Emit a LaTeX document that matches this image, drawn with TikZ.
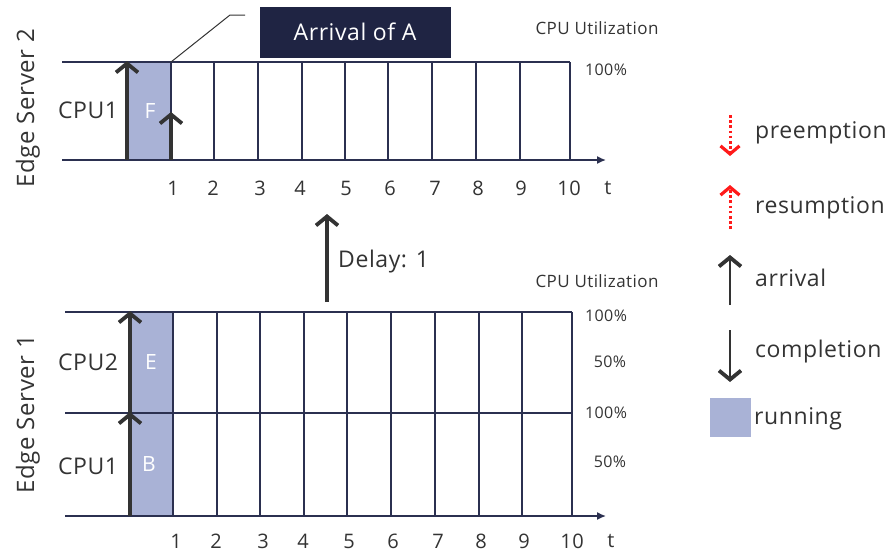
\documentclass[tikz,border=0pt]{standalone}
\usepackage{fontspec}
\setmainfont{Open Sans}[LetterSpace=2.5]
\usepackage{tikz}
\usetikzlibrary{arrows.meta,positioning}
\definecolor{tlgrid}{HTML}{2B3050}
\definecolor{tlrun}{HTML}{A9B2D6}
\definecolor{tlink}{HTML}{333333}
\definecolor{tlbox}{HTML}{1F2443}
\definecolor{tlred}{HTML}{FF1A1A}
\tikzset{
  grid/.style={draw=tlgrid,line width=1.3pt},
  axisline/.style={draw=tlgrid,line width=1.5pt,-{Latex[length=9pt,width=8pt]}},
  run/.style={fill=tlrun,draw=none},
  arrive/.style={draw=tlink,line width=3.5pt,-{Straight Barb[length=9pt,width=22pt,line width=3.8pt]}},
  finish/.style={draw=tlink,line width=3.5pt,-{Straight Barb[length=9pt,width=22pt,line width=3.8pt]}},
  preempt/.style={draw=tlred,line width=3pt,dash pattern=on 2.6pt off 2.6pt,
              -{Straight Barb[length=8pt,width=19pt,line width=3.2pt]}},
  ticklab/.style={font=\fontsize{20}{22}\selectfont,text=tlink,inner sep=0pt},
  cpulab/.style={font=\fontsize{23}{25}\selectfont,text=tlink,inner sep=0pt},
  srvlab/.style={font=\fontsize{24}{26}\selectfont,text=tlink,inner sep=0pt,rotate=90},
  joblab/.style={font=\fontsize{21}{23}\selectfont,text=white,inner sep=0pt},
  utillab/.style={font=\fontsize{17}{19}\selectfont,text=tlink,inner sep=0pt},
  pctlab/.style={font=\fontsize{16}{18}\selectfont,text=tlink,inner sep=0pt},
  leglab/.style={font=\fontsize{23}{25}\selectfont,text=tlink,inner sep=0pt,anchor=west},
  callout/.style={fill=tlbox,text=white,font=\fontsize{23}{25}\selectfont,
              minimum width=191pt,minimum height=51pt,inner sep=0pt},
}

\begin{document}
\begin{tikzpicture}[x=1pt,y=-1pt]
  \useasboundingbox (0,0) rectangle (893,557);

  % ================= edge server 2 =================
  \fill[run] (127,62) rectangle (171,160);
  \draw[grid] (62,62) -- (570,62);
  \foreach \x in {171,214,258,302,345,388,432,476,520,570}
    \draw[grid] (\x,62) -- (\x,160);
  \coordinate (s2o) at (62,160);
  \coordinate (s2e) at (606,160);
  \draw[axisline] (s2o) -- (s2e);
  \foreach \x/\t in {173/1,213/2,260/3,300/4,346/5,390/6,435/7,478/8,521/9,569/10,608/t}
    \node[ticklab] (s2t\t) at (\x,188) {\t};
  \node[srvlab] (srv2) at (28,108) {Edge Server 2};
  \node[cpulab] (s2c1) at (88,110) {CPU1};
  \node[joblab] (jobF) at (150,111) {F};
  \coordinate (aF0) at (127,160);
  \coordinate (aF1) at (127,61);
  \draw[arrive] (aF0) -- (aF1);
  \coordinate (aA0) at (171,160);
  \coordinate (aA1) at (171,112);
  \draw[arrive] (aA0) -- (aA1);
  \node[utillab] (s2u) at (597,28) {CPU Utilization};
  \node[pctlab] (s2p) at (606,70) {100\%};

  % callout
  \node[callout] (arrA) at (355,32) {Arrival of A};
  \coordinate (cl0) at (171,62);
  \coordinate (cl1) at (230,15);
  \coordinate (cl2) at (245,15);
  \draw[draw=tlink,line width=1pt] (cl0) -- (cl1) -- (cl2);

  % delay
  \coordinate (d0) at (327,302);
  \coordinate (d1) at (327,214);
  \draw[arrive] (d0) -- (d1);
  \node[cpulab,anchor=west] (dly) at (338,262) {Delay: 1};

  % ================= edge server 1 =================
  \fill[run] (130,312) rectangle (173,516);
  \draw[grid] (65,312) -- (572,312);
  \draw[grid] (65,413) -- (572,413);
  \foreach \x in {173,217,260,304,347,391,435,479,522,572}
    \draw[grid] (\x,312) -- (\x,516);
  \coordinate (s1o) at (65,516);
  \coordinate (s1e) at (606,516);
  \draw[axisline] (s1o) -- (s1e);
  \foreach \x/\t in {176/1,216/2,263/3,303/4,349/5,393/6,438/7,481/8,524/9,572/10,611/t}
    \node[ticklab] (s1t\t) at (\x,541) {\t};
  \node[srvlab] (srv1) at (28,414) {Edge Server 1};
  \node[cpulab] (s1c2) at (88,362) {CPU2};
  \node[cpulab] (s1c1) at (88,466) {CPU1};
  \node[joblab] (jobE) at (151,362) {E};
  \node[joblab] (jobB) at (149,464) {B};
  \coordinate (aB0) at (130,516);
  \coordinate (aB1) at (130,412);
  \draw[arrive] (aB0) -- (aB1);
  \coordinate (aE0) at (130,413);
  \coordinate (aE1) at (130,311);
  \draw[arrive] (aE0) -- (aE1);
  \node[utillab] (s1u) at (597,281) {CPU Utilization};
  \node[pctlab] (s1p1) at (606,316) {100\%};
  \node[pctlab] (s1p2) at (610,362) {50\%};
  \node[pctlab] (s1p3) at (606,413) {100\%};
  \node[pctlab] (s1p4) at (610,462) {50\%};

  % legend
  \coordinate (lp0) at (730,115);
  \coordinate (lp1) at (730,156);
  \draw[preempt] (lp0) -- (lp1);
  \node[leglab] (lpt) at (755,133) {preemption};
  \coordinate (lr0) at (730,229);
  \coordinate (lr1) at (730,185);
  \draw[preempt] (lr0) -- (lr1);
  \node[leglab] (lrt) at (755,208) {resumption};
  \coordinate (la0) at (730,305);
  \coordinate (la1) at (730,255);
  \draw[arrive,line width=2.8pt] (la0) -- (la1);
  \node[leglab] (lat) at (755,278) {arrival};
  \coordinate (lc0) at (730,330);
  \coordinate (lc1) at (730,382);
  \draw[finish,line width=2.8pt] (lc0) -- (lc1);
  \node[leglab] (lct) at (755,352) {completion};
  \fill[run] (710,398) rectangle (751,437);
  \node[leglab] (lrun) at (754,419) {running};
\end{tikzpicture}
\end{document}
